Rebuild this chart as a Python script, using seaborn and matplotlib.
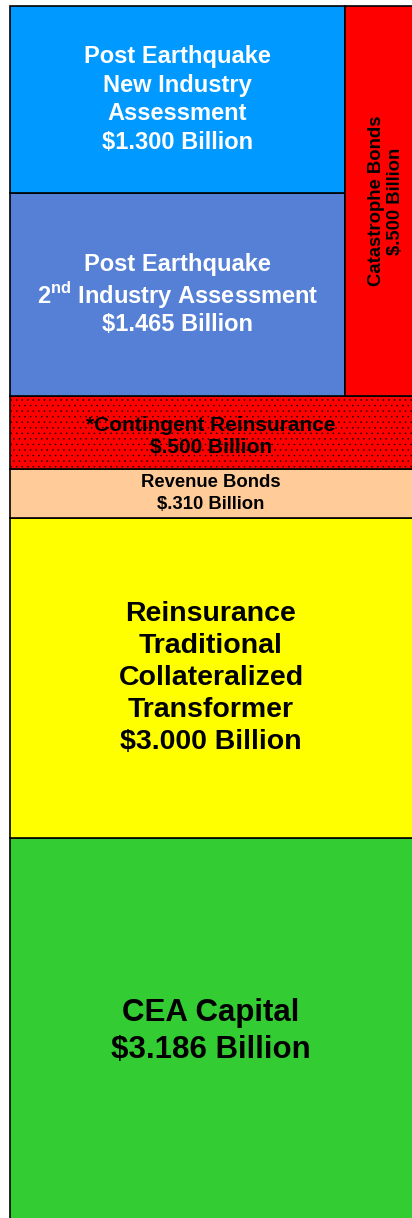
"""   CEA claim-paying capacity tower drawn as stacked layers   """
import matplotlib
matplotlib.use('Agg')
import matplotlib.pyplot as plt
import numpy as np
import seaborn as sns

# ~~~~~~~  Data  ~~~~~~~ ~~~~~~~~~ ~~~~~~~~~~~~~ ~~~~~~~ ~ #
# full-width layers, bottom to top
base_labels = ['CEA Capital', 'Reinsurance\nTraditional\nCollateralized\nTransformer',
               'Revenue Bonds', '*Contingent Reinsurance']
base_values = [3.186, 3.000, 0.310, 0.500]          # $ billion
base_thickness = [387, 320, 49, 73]                 # drawn thickness

# upper left column, bottom to top
upper_labels = ['Post Earthquake\n2$^{\\mathbf{nd}}$ Industry Assessment',
                'Post Earthquake\nNew Industry\nAssessment']
upper_values = [1.465, 1.300]
upper_thickness = [203, 187]

# upper right column
side_label = 'Catastrophe Bonds'
side_value = 0.500


def money(v):
    s = f'{v:.3f}'
    return '$' + (s[1:] if s.startswith('0') else s) + ' Billion'


# ~~~~~~~  Figure  ~~~~~~~ ~~~~~~~~~ ~~~~~~~~~~~~~ ~~~~~~~ ~ #
sns.set_style('white')
plt.rcParams['font.family'] = ['Liberation Sans', 'DejaVu Sans']
plt.rcParams['mathtext.fontset'] = 'custom'
plt.rcParams['mathtext.bf'] = 'Liberation Sans:bold'
plt.rcParams['mathtext.rm'] = 'Liberation Sans:bold'
plt.rcParams['hatch.linewidth'] = 0.3

fig = plt.figure(figsize=(4.12, 12.18), dpi=100)
ax = fig.add_axes([0, 0, 1, 1])
ax.set_xlim(0, 412)
ax.set_ylim(7, 1225)
ax.axis('off')

base_colors = ['#33CC33', '#FFFF00', '#FFCC99', '#FF0000']
base_fonts = [22.5, 20.5, 13.3, 15]
base_spacing = [1.32, 1.31, 1.4, 1.2]
base_shift = [0, 0, 0, -4]   # nudge of the label centre
upper_colors = ['#5580D5', '#0099FF']
upper_spacing = [1.15, 1.3]

left, left_w, full_w = 10, 335, 420
bottoms = np.concatenate([[0], np.cumsum(base_thickness)])
for i, (lab, val, th) in enumerate(zip(base_labels, base_values, base_thickness)):
    ax.bar(left, th, width=full_w, bottom=bottoms[i], align='edge',
           color=base_colors[i], edgecolor='black', linewidth=1.2,
           hatch='...' if lab.startswith('*') else None)
    ax.text(left + (412 - left) / 2, bottoms[i] + th / 2 + base_shift[i], lab + '\n' + money(val),
            ha='center', va='center', fontsize=base_fonts[i], fontweight='bold',
            color='black', linespacing=base_spacing[i])

top_base = bottoms[-1]
ub = np.concatenate([[top_base], top_base + np.cumsum(upper_thickness)])
for i, (lab, val, th) in enumerate(zip(upper_labels, upper_values, upper_thickness)):
    ax.bar(left, th, width=left_w, bottom=ub[i], align='edge',
           color=upper_colors[i], edgecolor='black', linewidth=1.2)
    ax.text(left + left_w / 2, ub[i] + th / 2, lab + '\n' + money(val),
            ha='center', va='center', fontsize=17, fontweight='bold',
            color='white', linespacing=upper_spacing[i])

side_h = sum(upper_thickness)
ax.bar(left + left_w, side_h, width=100, bottom=top_base, align='edge',
       color='#FF0000', edgecolor='black', linewidth=1.2)
ax.text(left + left_w + 41, top_base + side_h / 2, side_label + '\n' + money(side_value),
        ha='center', va='center', rotation=90, fontsize=13.3, fontweight='bold',
        color='black', linespacing=1.15)

fig.savefig('out.png', dpi=100)
